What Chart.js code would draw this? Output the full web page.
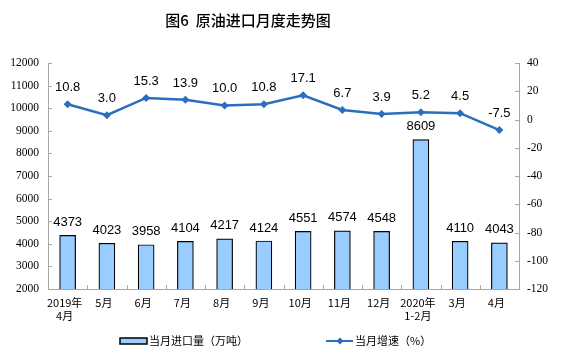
<!DOCTYPE html>
<html><head><meta charset="utf-8">
<script src="https://cdn.jsdelivr.net/npm/chart.js@4"></script>
<style>html,body{margin:0;padding:0;background:#fff}#wrap{width:561px;height:357px;position:relative}</style>
</head><body><div id="wrap"><canvas id="c" width="561" height="357"></canvas></div>
<script>
const categories = [['2019年','4月'],'5月','6月','7月','8月','9月','10月','11月','12月',['2020年','1-2月'],'3月','4月'];
const importVolume = [4373,4023,3958,4104,4217,4124,4551,4574,4548,8609,4110,4043];
const growthRate = [10.8,3.0,15.3,13.9,10.0,10.8,17.1,6.7,3.9,5.2,4.5,-7.5];
const leftAxis = {min:2000, max:12000, step:1000};
const rightAxis = {min:-120, max:40, step:20};
const titleText = '图6  原油进口月度走势图';
const legendLabels = ['当月进口量（万吨）','当月增速（%）'];

const BAR_FILL = '#99CCFF', LINE_COLOR = '#2A6EBE', AXIS = '#A6A6A6';
const CJK = '"Noto Sans CJK SC", sans-serif';
const SERIF = '"Liberation Serif", "Times New Roman", serif';
const SANS = '"Liberation Sans", Arial, sans-serif';

const deco = {
  id: 'deco',
  afterDatasetsDraw(chart) {
    const ctx = chart.ctx;
    ctx.save();
    ctx.fillStyle = '#000';
    ctx.font = '13px ' + SANS;
    ctx.textAlign = 'center';
    ctx.textBaseline = 'middle';
    chart.getDatasetMeta(1).data.forEach((el, i) => {
      ctx.fillText(String(importVolume[i]), el.x, el.y - 13);
    });
    chart.getDatasetMeta(0).data.forEach((el, i) => {
      ctx.fillText(growthRate[i].toFixed(1), el.x, el.y - 16.5);
    });
    ctx.restore();
  },
  afterDraw(chart) {
    const ctx = chart.ctx, a = chart.chartArea;
    const x = chart.scales.x, y = chart.scales.y, y1 = chart.scales.y1;
    ctx.save();
    ctx.strokeStyle = AXIS; ctx.lineWidth = 1;
    ctx.beginPath();
    y.ticks.forEach((t, i) => { const p = Math.round(y.getPixelForTick(i)) + 0.5; ctx.moveTo(a.left, p); ctx.lineTo(a.left + 4, p); });
    y1.ticks.forEach((t, i) => { const p = Math.round(y1.getPixelForTick(i)) + 0.5; ctx.moveTo(a.right - 4, p); ctx.lineTo(a.right, p); });
    for (let i = 0; i < categories.length - 1; i++) {
      const p = Math.round((x.getPixelForTick(i) + x.getPixelForTick(i + 1)) / 2) + 0.5;
      ctx.moveTo(p, a.bottom); ctx.lineTo(p, a.bottom - 4);
    }
    ctx.stroke();
    // title
    ctx.fillStyle = '#000';
    ctx.font = '500 15px ' + CJK;
    ctx.textAlign = 'center'; ctx.textBaseline = 'middle';
    ctx.fillText(titleText, 248, 20);
    // legend
    const ly = 341;
    ctx.fillStyle = BAR_FILL; ctx.strokeStyle = '#000'; ctx.lineWidth = 1.5;
    ctx.fillRect(120, ly - 3, 27, 6); ctx.strokeRect(120, ly - 3, 27, 6);
    ctx.fillStyle = '#000'; ctx.font = '11px ' + CJK; ctx.textAlign = 'left';
    ctx.fillText(legendLabels[0], 149, ly);
    ctx.strokeStyle = LINE_COLOR; ctx.lineWidth = 2;
    ctx.beginPath(); ctx.moveTo(326, ly); ctx.lineTo(353, ly); ctx.stroke();
    ctx.fillStyle = LINE_COLOR;
    ctx.beginPath(); ctx.moveTo(340, ly - 3.5); ctx.lineTo(343.5, ly); ctx.lineTo(340, ly + 3.5); ctx.lineTo(336.5, ly); ctx.closePath(); ctx.fill();
    ctx.fillStyle = '#000';
    ctx.fillText(legendLabels[1], 355, ly);
    ctx.restore();
  }
};

new Chart(document.getElementById('c'), {
  data: {
    labels: categories,
    datasets: [
      { type: 'line', label: legendLabels[1], data: growthRate, yAxisID: 'y1', order: 0,
        borderColor: LINE_COLOR, backgroundColor: LINE_COLOR, borderWidth: 2.5,
        pointStyle: 'rectRot', pointRadius: 4, pointBorderWidth: 0, tension: 0 },
      { type: 'bar', label: legendLabels[0], data: importVolume, yAxisID: 'y', order: 1,
        backgroundColor: BAR_FILL, borderColor: '#000', borderWidth: 1.2,
        barThickness: 16 }
    ]
  },
  options: {
    responsive: false, animation: false, devicePixelRatio: 1,
    layout: { padding: { top: 63, bottom: 28, left: 0, right: 0 } },
    plugins: { legend: { display: false }, title: { display: false }, tooltip: { enabled: false } },
    scales: {
      x: {
        grid: { display: false, drawTicks: false },
        border: { display: true, color: AXIS, width: 1 },
        ticks: { color: '#000', font: { family: CJK, size: 11, lineHeight: 1.2 }, padding: 7, labelOffset: -3, maxRotation: 0, autoSkip: false },
        afterFit(s) { s.height = 40; }
      },
      y: {
        position: 'left', min: leftAxis.min, max: leftAxis.max,
        grid: { display: false, drawTicks: false },
        border: { display: true, color: AXIS, width: 1 },
        ticks: { stepSize: leftAxis.step, color: '#000', font: { family: SERIF, size: 11.5 }, padding: 9, callback: v => String(v) },
        afterFit(s) { s.width = 48; }
      },
      y1: {
        position: 'right', min: rightAxis.min, max: rightAxis.max,
        grid: { display: false, drawTicks: false },
        border: { display: true, color: AXIS, width: 1 },
        ticks: { stepSize: rightAxis.step, color: '#000', font: { family: SERIF, size: 11.5 }, padding: 8, callback: v => String(v) },
        afterFit(s) { s.width = 42; }
      }
    }
  },
  plugins: [deco]
});
</script>
</body></html>
